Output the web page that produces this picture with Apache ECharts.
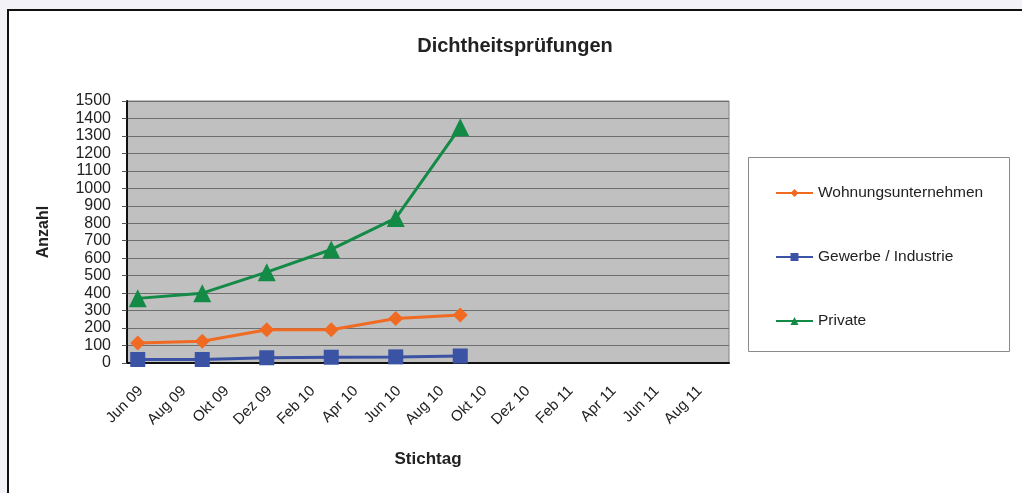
<!DOCTYPE html>
<html>
<head>
<meta charset="utf-8">
<script src="https://cdn.jsdelivr.net/npm/echarts@6/dist/echarts.min.js"></script>
<style>
  html, body { margin: 0; padding: 0; background: #f3f3f7; overflow: hidden; }
  #frame { position: absolute; left: 7px; top: 9px; width: 1100px; height: 600px;
           border: 2px solid #111; background: #fff; }
  #chart { position: absolute; left: 0; top: 0; width: 1022px; height: 493px; }
</style>
</head>
<body>
<div id="frame"></div>
<div id="chart"></div>
<script>
// tick labels, one per 2-month interval
const tickLabels = ['Jun 09', 'Aug 09', 'Okt 09', 'Dez 09', 'Feb 10', 'Apr 10', 'Jun 10',
                    'Aug 10', 'Okt 10', 'Dez 10', 'Feb 11', 'Apr 11', 'Jun 11', 'Aug 11'];
// monthly slots on the date axis
const months = ['Jun 09', 'Jul 09', 'Aug 09', 'Sep 09', 'Okt 09', 'Nov 09', 'Dez 09',
                'Jan 10', 'Feb 10', 'Mrz 10', 'Apr 10', 'Mai 10', 'Jun 10', 'Jul 10',
                'Aug 10', 'Sep 10', 'Okt 10', 'Nov 10', 'Dez 10', 'Jan 11', 'Feb 11',
                'Mrz 11', 'Apr 11', 'Mai 11', 'Jun 11', 'Jul 11', 'Aug 11', 'Sep 11'];
// Stichtage (quarterly)
const dates = ['Jun 09', 'Sep 09', 'Dez 09', 'Mrz 10', 'Jun 10', 'Sep 10'];
const wohnung = [115, 125, 190, 190, 255, 275];
const gewerbe = [20, 20, 30, 33, 35, 40];
const privat = [370, 400, 520, 650, 830, 1350];

const pairs = vals => dates.map((d, i) => [d, vals[i]]);

let myChart = echarts.init(document.getElementById('chart'));
const font = 'Liberation Sans, Arial, sans-serif';

function lineSeries (name, vals, color, symbol, size) {
    return {
        name: name,
        type: 'line',
        xAxisIndex: 1,
        data: pairs(vals),
        symbol: symbol,
        symbolSize: size,
        lineStyle: { color: color, width: 3 },
        itemStyle: { color: color },
    };
}

let option = {
    animation: false,
    textStyle: { fontFamily: font },
    title: {
        text: 'Dichtheitsprüfungen',
        left: 510,
        top: 31,
        textAlign: 'center',
        textStyle: { fontSize: 20, fontWeight: 'bold', color: '#222', fontFamily: font }
    },
    grid: {
        left: 127, right: 293, top: 101, bottom: 130,
        show: true,
        backgroundColor: '#c0c0c0',
        borderColor: '#808080',
        borderWidth: 1,
    },
    graphic: [{
        type: 'rect',
        shape: { x: 748.5, y: 157.5, width: 261, height: 194 },
        style: { fill: '#fff', stroke: '#8a8a8a', lineWidth: 1 },
        z: 0
    }],
    legend: {
        orient: 'vertical',
        left: 770,
        top: 180,
        itemWidth: 37,
        itemHeight: 10,
        itemGap: 48,
        textStyle: { fontSize: 15.5, color: '#222', fontFamily: font },
        data: ['Wohnungsunternehmen', 'Gewerbe / Industrie', 'Private']
    },
    xAxis: [{
        type: 'category',
        data: tickLabels,
        boundaryGap: true,
        name: 'Stichtag',
        nameLocation: 'middle',
        nameGap: 88,
        nameTextStyle: { fontSize: 17, fontWeight: 'bold', color: '#222', fontFamily: font },
        axisLine: { lineStyle: { color: '#111', width: 2 } },
        axisTick: { length: 5, lineStyle: { color: '#555' } },
        axisLabel: { rotate: 45, margin: 18, padding: [0, 11, 0, 0], fontSize: 15, color: '#222', interval: 0 },
        splitLine: { show: false },
    }, {
        type: 'category',
        data: months,
        boundaryGap: true,
        show: false,
        position: 'bottom',
    }],
    yAxis: {
        type: 'value',
        min: 0,
        max: 1500,
        interval: 100,
        name: 'Anzahl',
        nameLocation: 'middle',
        nameGap: 75,
        nameTextStyle: { fontSize: 16, fontWeight: 'bold', color: '#222', fontFamily: font },
        axisLine: { show: true, lineStyle: { color: '#111', width: 2 } },
        axisTick: { show: true, length: 5, lineStyle: { color: '#555' } },
        axisLabel: { fontSize: 16, color: '#222', margin: 16, formatter: v => String(v) },
        splitLine: { lineStyle: { color: '#6e6e6e', width: 1 } },
    },
    series: [
        lineSeries('Wohnungsunternehmen', wohnung, '#f06a22', 'diamond', 15),
        lineSeries('Gewerbe / Industrie', gewerbe, '#3a53a4', 'rect', 15),
        lineSeries('Private', privat, '#138a45', 'triangle', 18),
    ]
};
myChart.setOption(option);
window.addEventListener('resize', () => { myChart.resize(); });
</script>
</body>
</html>
